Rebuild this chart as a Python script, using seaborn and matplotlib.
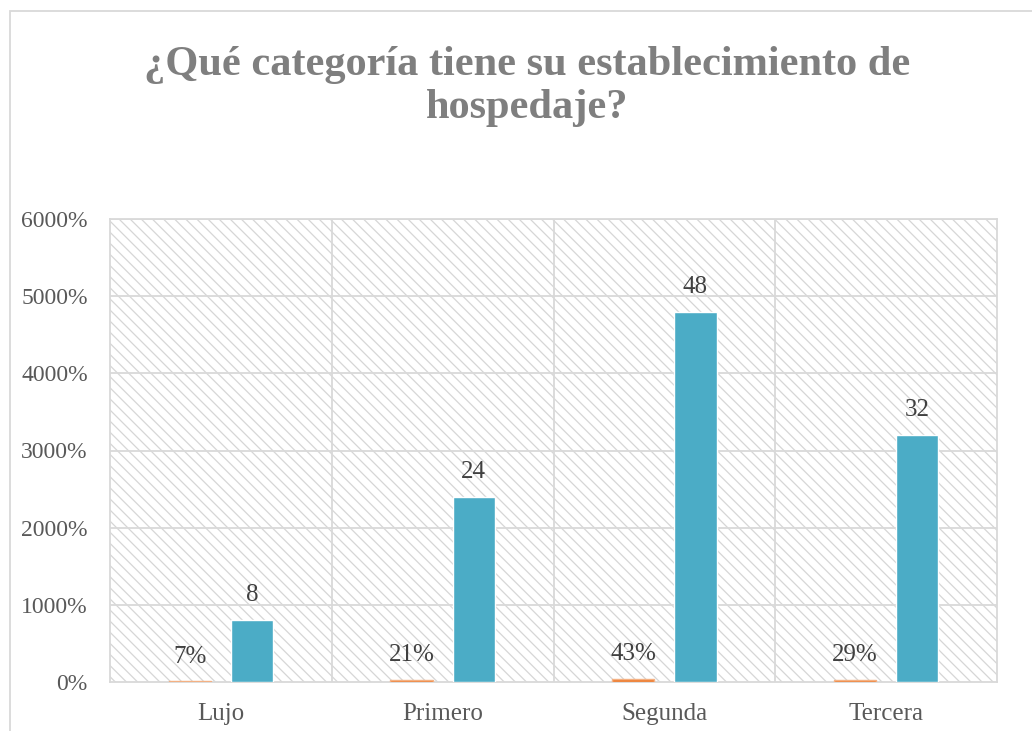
import numpy as np
import pandas as pd
import matplotlib
matplotlib.use('Agg')
import matplotlib.pyplot as plt
from matplotlib.patches import Rectangle
from matplotlib.ticker import PercentFormatter
import seaborn as sns

categorias = ['Lujo', 'Primero', 'Segunda', 'Tercera']
porcentaje = [0.07, 0.21, 0.43, 0.29]
frecuencia = [8, 24, 48, 32]
etiq_pct = ['7%', '21%', '43%', '29%']
etiq_frec = ['8', '24', '48', '32']

df = pd.DataFrame({
    'categoria': categorias * 2,
    'serie': ['pct'] * 4 + ['frec'] * 4,
    'valor': porcentaje + frecuencia,
})

sns.set_theme(style='white')
plt.rcParams['font.family'] = ['Liberation Serif', 'DejaVu Serif']
plt.rcParams['hatch.linewidth'] = 0.9

fig = plt.figure(figsize=(10.32, 7.31), dpi=100)
ax = fig.add_axes([110/1032, 49/731, 887/1032, 463/731])

# fondo rayado
fondo = Rectangle((0, 0), 1, 1, transform=ax.transAxes, facecolor='white',
                  edgecolor='#D6D6D6', hatch='\\\\\\', lw=0, zorder=0)
ax.add_patch(fondo)

sns.barplot(data=df, x='categoria', y='valor', hue='serie',
            palette=['#ED7D31', '#4BACC6'], width=0.56, gap=0.32,
            legend=False, ax=ax, zorder=3, saturation=1)

# las barras naranjas son muy bajas: borde fino para que se vean
for b in ax.containers[0]:
    b.set_edgecolor('#F4B183')
    b.set_linewidth(1.0)

ax.set_ylim(0, 60)
ax.set_xlim(-0.5, 3.5)
ax.set_yticks(np.arange(0, 61, 10))
ax.yaxis.set_major_formatter(PercentFormatter(xmax=1, decimals=0))
for y in np.arange(10, 61, 10):
    ax.axhline(y, color='#D9D9D9', lw=1.3, zorder=1)
for x in [0.5, 1.5, 2.5]:
    ax.axvline(x, color='#D9D9D9', lw=1.3, zorder=1)
for s in ax.spines.values():
    s.set_color('#D9D9D9')
    s.set_linewidth(1.3)

ax.bar_label(ax.containers[0], labels=etiq_pct, padding=10, fontsize=18, color='#404040')
ax.bar_label(ax.containers[1], labels=etiq_frec, padding=10, fontsize=18, color='#404040')

ax.set_xlabel('')
ax.set_ylabel('')
ax.tick_params(axis='y', labelsize=17, colors='#595959', length=0, pad=16)
ax.tick_params(axis='x', labelsize=18, colors='#595959', length=0, pad=15)

fig.text(0.511, 0.882, '¿Qué categoría tiene su establecimiento de\nhospedaje?',
         ha='center', va='center', fontsize=30.5, fontweight='bold', color='#7F7F7F',
         linespacing=1.17)

# borde del gráfico
fig.patches.append(Rectangle((10/1032, -0.1), 1.2, (731-11)/731 + 0.1,
                             transform=fig.transFigure, fill=False,
                             edgecolor='#D9D9D9', lw=1.3))

fig.savefig('out.png', dpi=100)
